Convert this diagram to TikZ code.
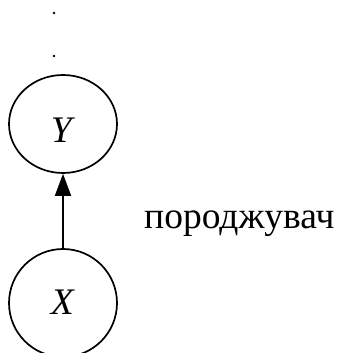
\documentclass[tikz,border=0pt]{standalone}
\usepackage{fontspec}
\setmainfont{Liberation Serif}
\usetikzlibrary{arrows.meta,shapes.geometric}
\begin{document}
\begin{tikzpicture}[x=1pt,y=1pt,
  every node/.style={font=\fontsize{37.5}{42}\selectfont},
  var/.style={draw, line width=1.7pt, inner sep=0pt, text depth=0pt},
  link/.style={line width=1.7pt, -{Triangle[length=22pt,width=16pt]}},
  dot/.style={fill=black, inner sep=0pt, minimum size=2.8pt, circle}]
  \useasboundingbox (0,0) rectangle (339,353);
  % vertical ellipsis above the top variable
  \node[dot] (d1) at (54,340) {};
  \node[dot] (d2) at (54,297) {};
  % variables
  \node[var, ellipse, minimum width=108pt, minimum height=98pt,
        text height=38pt] (Y) at (63,229) {\textit{Y}};
  \node[var, circle, minimum size=108pt, text height=24pt] (X) at (63,50) {\textit{X}};
  % generator link
  \draw[link] (X) -- (Y);
  \node[anchor=base west, inner sep=0pt] (gen) at (144,124) {породжувач};
\end{tikzpicture}
\end{document}
